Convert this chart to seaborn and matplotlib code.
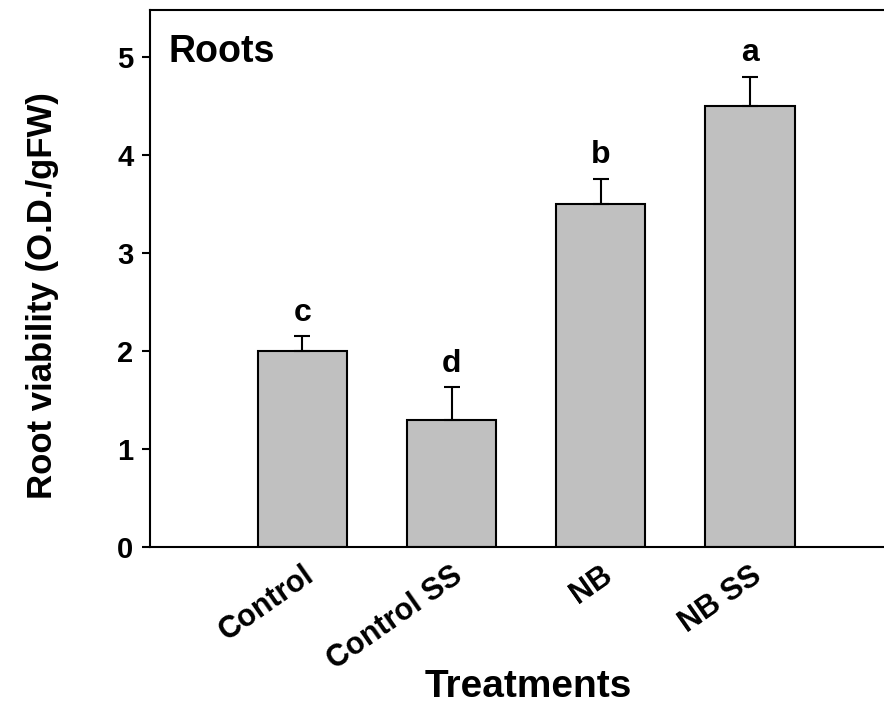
import matplotlib
matplotlib.use("Agg")
import matplotlib.pyplot as plt
import seaborn as sns
import pandas as pd
import numpy as np

categories = ["Control", "Control SS", "NB", "NB SS"]
means = [2.0, 1.3, 3.5, 4.5]
errors = [0.15, 0.33, 0.26, 0.30]
letters = ["c", "d", "b", "a"]
yticks = [0, 1, 2, 3, 4, 5]

sns.set_style("white")
plt.rcParams['font.family'] = ['Liberation Sans', 'DejaVu Sans']
plt.rcParams['font.weight'] = 'bold'
plt.rcParams['text.color'] = 'black'
plt.rcParams['xtick.color'] = 'black'
plt.rcParams['ytick.color'] = 'black'
plt.rcParams['axes.labelcolor'] = 'black'

df = pd.DataFrame({"Treatment": categories, "Value": means})

fig = plt.figure(figsize=(8.84, 7.06), dpi=100)
ax = fig.add_axes([0.170, 0.225, 0.83, 0.761])

sns.barplot(data=df, x="Treatment", y="Value", order=categories, color="#C0C0C0",
            edgecolor="black", linewidth=1.5, width=0.6, errorbar=None, ax=ax,
            saturation=1)

xpos = np.arange(len(categories))
ax.errorbar(xpos, means, yerr=[np.zeros(len(means)), errors], fmt="none",
            ecolor="black", elinewidth=1.5, capsize=6, capthick=1.5)

for x, m, e, l in zip(xpos, means, errors, letters):
    ax.annotate(l, (x, m + e), xytext=(0, 6), textcoords="offset points",
                ha="center", va="bottom", fontsize=23, fontweight="bold")

ax.text(0.025, 0.955, "Roots", transform=ax.transAxes, ha="left", va="top",
        fontsize=27, fontweight="bold")

ax.set_xlim(-1.02, 3.9)
ax.set_ylim(0, 5.48)
ax.set_yticks(yticks)
ax.set_yticklabels([str(t) for t in yticks], fontsize=21, fontweight="bold")
ax.set_xticks(xpos)
ax.set_xticklabels(categories, fontsize=22, fontweight="bold", rotation=35,
                   ha="right", va="top", rotation_mode="anchor")
ax.tick_params(axis="y", direction="out", length=6, width=1.5, left=True, pad=6)
ax.tick_params(axis="x", bottom=False, pad=6)

ax.set_xlabel("Treatments", fontsize=28, fontweight="bold")
ax.xaxis.set_label_coords((528 - 150) / 734, -0.227)
ax.set_ylabel("Root viability (O.D./gFW)", fontsize=25, fontweight="bold")
ax.yaxis.set_label_coords(-0.124, 0.469)

for s in ["left", "bottom", "top"]:
    ax.spines[s].set_visible(True)
    ax.spines[s].set_color("black")
    ax.spines[s].set_linewidth(1.5)
ax.spines["right"].set_visible(False)

fig.savefig("out.png", dpi=100)
